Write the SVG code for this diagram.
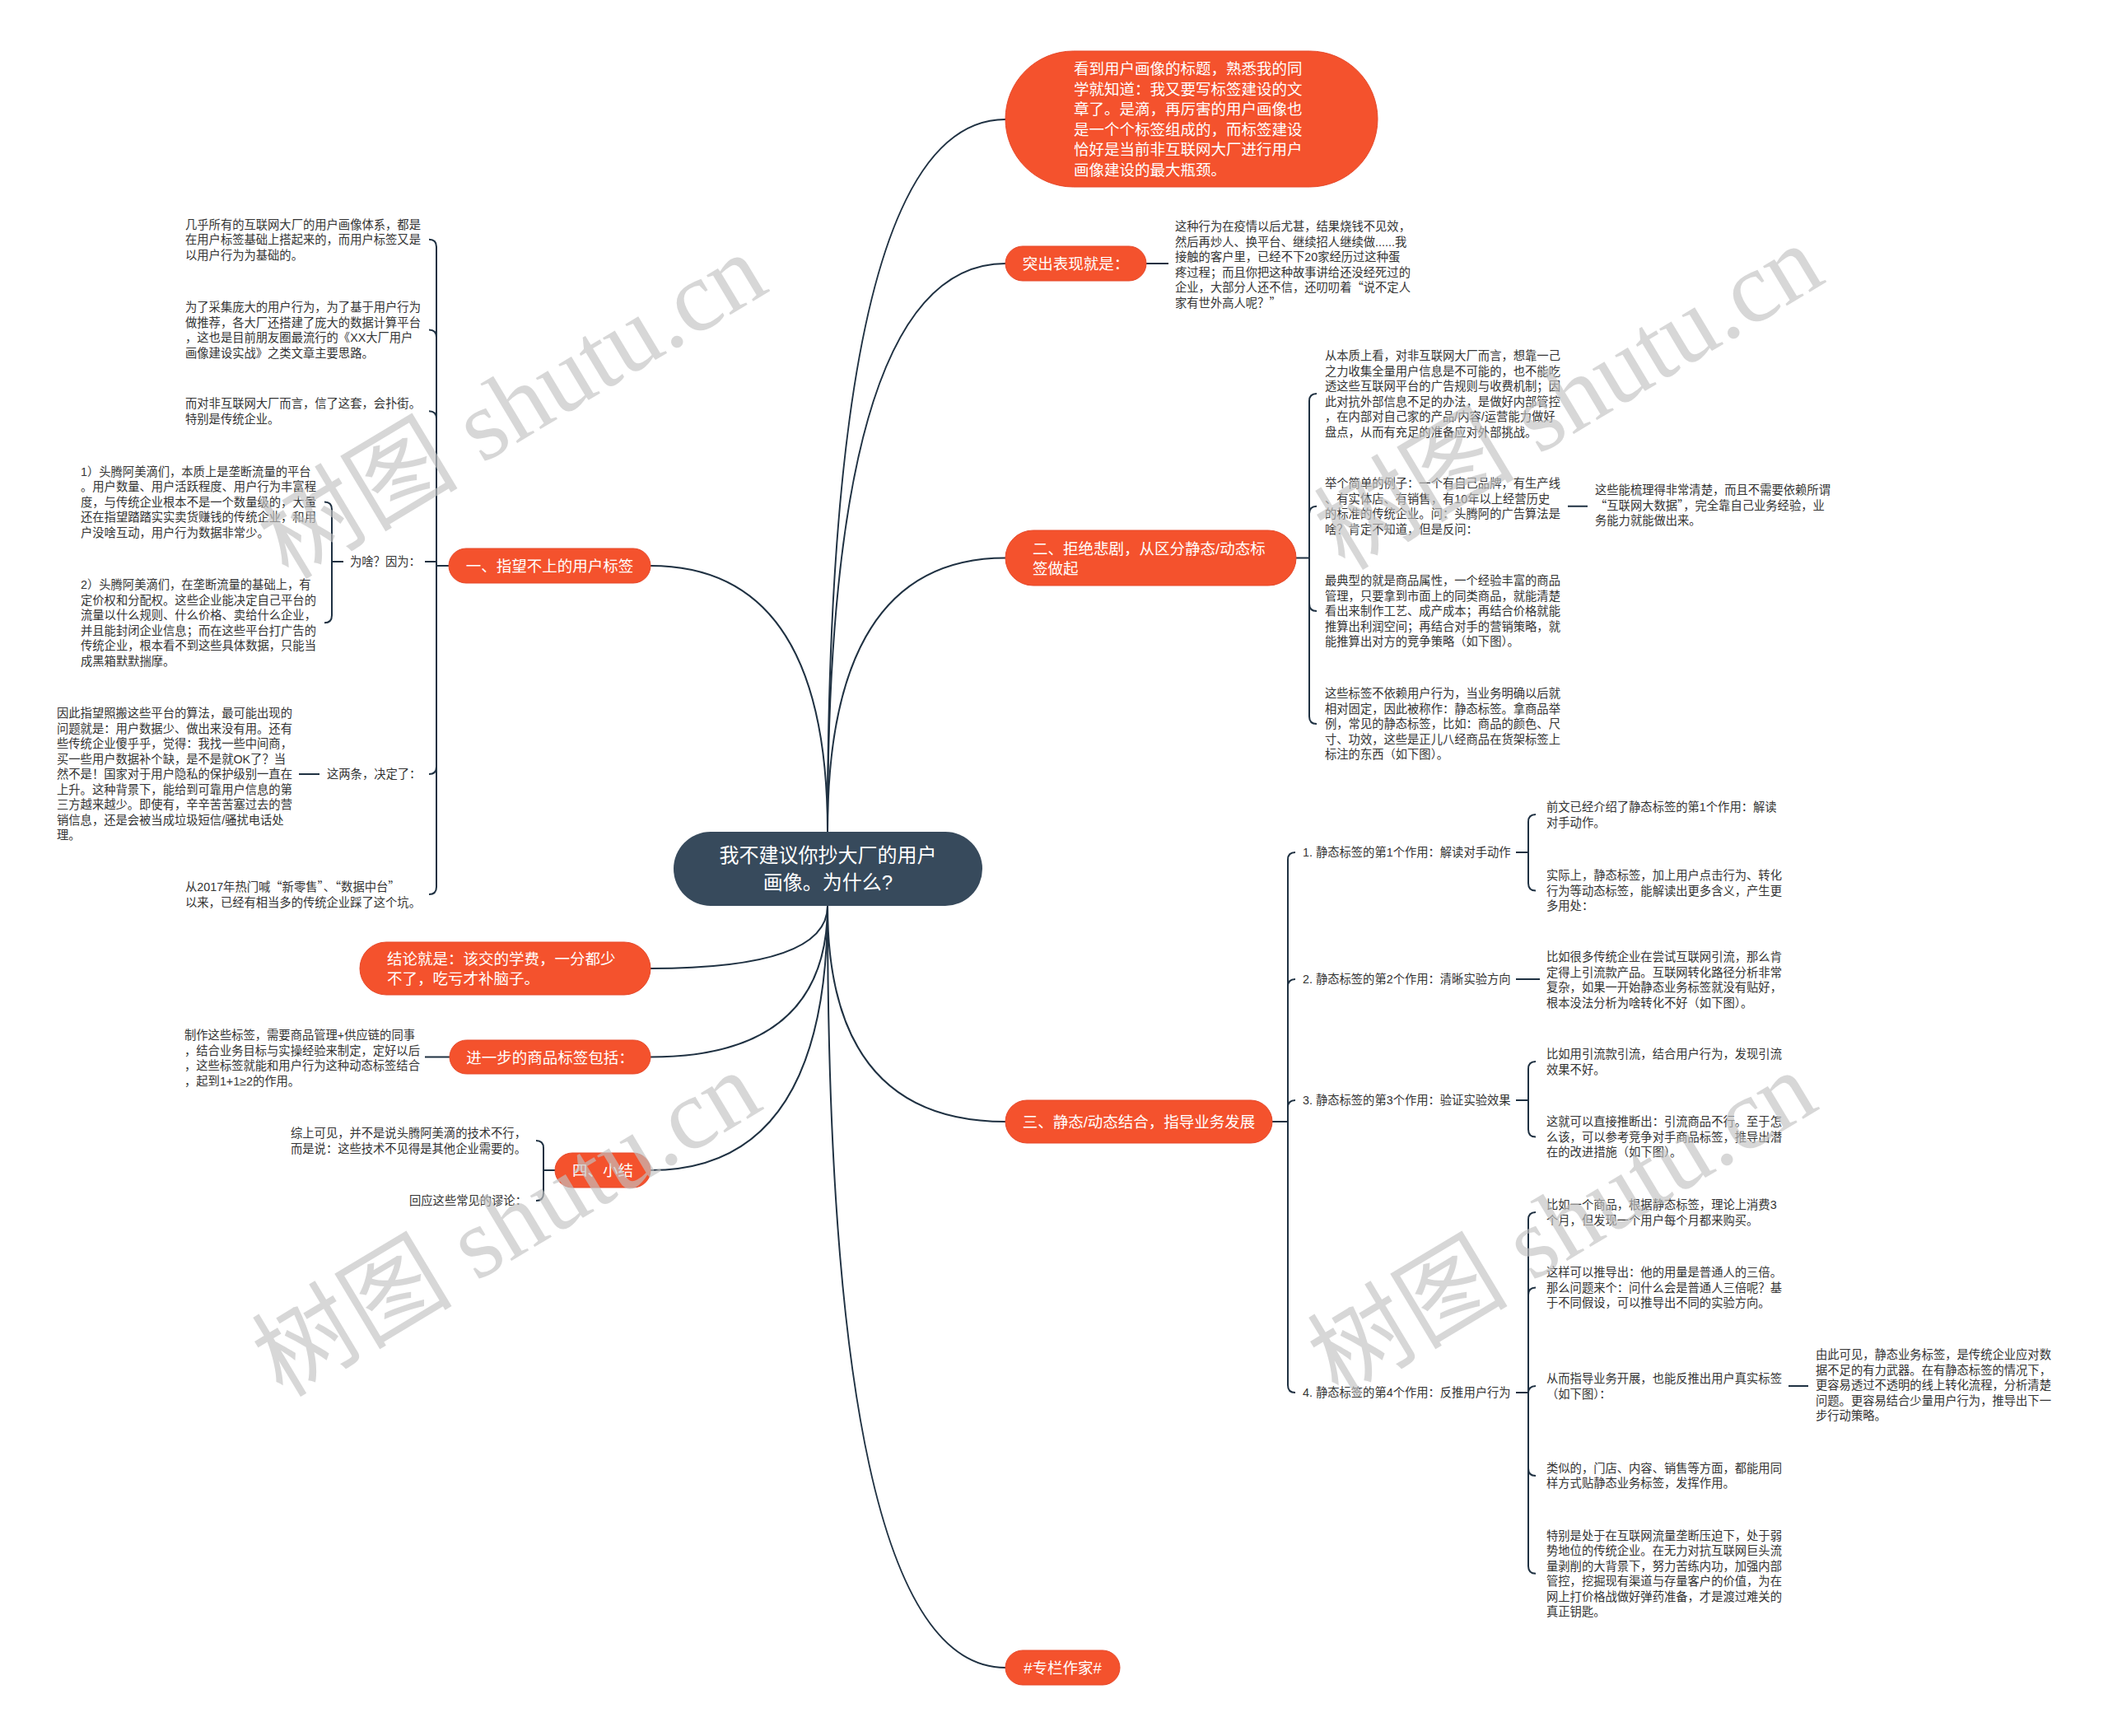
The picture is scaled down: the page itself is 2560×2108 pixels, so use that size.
<svg xmlns="http://www.w3.org/2000/svg" width="2560" height="2108" viewBox="0 0 2560 2108">
<style>
.t{font-family:"Liberation Sans","Noto Sans CJK SC",sans-serif;font-size:14.3px;fill:#333}
.q{font-family:"Noto Sans CJK SC",sans-serif}
.nt{font-family:"Liberation Sans","Noto Sans CJK SC",sans-serif;font-size:18.5px;fill:#fff}
.ct{font-family:"Liberation Sans","Noto Sans CJK SC",sans-serif;font-size:24px;fill:#fff;text-anchor:middle}
.node{fill:#f4522d;stroke:#e5482a;stroke-width:1}
.root{fill:#374a5c}
.conn path{fill:none;stroke:#1f3142;stroke-width:2}
.wm{font-family:"Liberation Serif","Noto Sans CJK SC",serif;font-size:122px;fill:#c2c2c2;opacity:0.65}
</style>
<rect width="2560" height="2108" fill="#fff"/>
<g id="connectors" class="conn">
<path d="M1005,1010 Q1005,145 1221,145"/>
<path d="M1005,1010 Q1005,320 1221,320"/>
<path d="M1005,1010 Q1005,677.5 1221,677.5"/>
<path d="M1005,1010 Q1005,687 790,687"/>
<path d="M1005,1100 Q1005,1362 1221,1362"/>
<path d="M1005,1100 Q1005,2025 1221,2025"/>
<path d="M1005,1100 Q1005,1176 790,1176"/>
<path d="M1005,1100 Q1005,1283.5 790,1283.5"/>
<path d="M1005,1100 Q1005,1421 790,1421"/>
<path d="M1392,320 H1419"/>
<path d="M1574,677.5 H1590"/>
<path d="M1590,677.5 V487 Q1590,478 1599,478"/>
<path d="M1590,677.5 V623.75 Q1590,614.75 1599,614.75"/>
<path d="M1590,677.5 V733 Q1590,742 1599,742"/>
<path d="M1590,677.5 V870 Q1590,879 1599,879"/>
<path d="M1904,614.75 H1928"/>
<path d="M1545,1362 H1564"/>
<path d="M1564,1362 V1044 Q1564,1035 1573,1035"/>
<path d="M1564,1362 V1198 Q1564,1189 1573,1189"/>
<path d="M1564,1362 V1345 Q1564,1336 1573,1336"/>
<path d="M1564,1362 V1682 Q1564,1691 1573,1691"/>
<path d="M1841,1035 H1856"/>
<path d="M1856,1035 V998 Q1856,989 1865,989"/>
<path d="M1856,1035 V1072.5 Q1856,1081.5 1865,1081.5"/>
<path d="M1841,1189 H1870"/>
<path d="M1841,1336 H1856"/>
<path d="M1856,1336 V1298 Q1856,1289 1865,1289"/>
<path d="M1856,1336 V1371.5 Q1856,1380.5 1865,1380.5"/>
<path d="M1841,1691 H1856"/>
<path d="M1856,1691 V1481 Q1856,1472 1865,1472"/>
<path d="M1856,1691 V1572.5 Q1856,1563.5 1865,1563.5"/>
<path d="M1856,1691 V1692 Q1856,1683 1865,1683"/>
<path d="M1856,1691 V1783 Q1856,1792 1865,1792"/>
<path d="M1856,1691 V1901.75 Q1856,1910.75 1865,1910.75"/>
<path d="M2172,1683 H2196"/>
<path d="M545,687 H530"/>
<path d="M530,687 V299.8 Q530,290.8 521,290.8"/>
<path d="M530,687 V409.5 Q530,400.5 521,400.5"/>
<path d="M530,687 V508.25 Q530,499.25 521,499.25"/>
<path d="M530,687 V682 H516"/>
<path d="M530,687 V931 Q530,940 521,940"/>
<path d="M530,687 V1077 Q530,1086 521,1086"/>
<path d="M417,682 H403"/>
<path d="M403,682 V618.5 Q403,609.5 394,609.5"/>
<path d="M403,682 V747.25 Q403,756.25 394,756.25"/>
<path d="M388,940 H363"/>
<path d="M516,1283.5 H546"/>
<path d="M674,1421 H660"/>
<path d="M660,1421 V1394 Q660,1385 651,1385"/>
<path d="M660,1421 V1449 Q660,1458 651,1458"/>
</g>
<g id="root">
<rect class="root" x="818" y="1010" width="375" height="90" rx="45"/>
<text class="ct"><tspan x="1005.5" y="1047">我不建议你抄大厂的用户</tspan><tspan x="1005.5" y="1080">画像。为什么?</tspan></text>
</g>
<g id="n-intro">
<rect class="node" x="1221" y="62" width="452" height="165" rx="82.5"/>
<text class="nt"><tspan x="1304" y="90">看到用户画像的标题，熟悉我的同</tspan><tspan x="1304" y="114.5">学就知道：我又要写标签建设的文</tspan><tspan x="1304" y="139">章了。是滴，再厉害的用户画像也</tspan><tspan x="1304" y="163.5">是一个个标签组成的，而标签建设</tspan><tspan x="1304" y="188">恰好是当前非互联网大厂进行用户</tspan><tspan x="1304" y="212.5">画像建设的最大瓶颈。</tspan></text>
</g>
<g id="n-tuchu">
<rect class="node" x="1221" y="299" width="171" height="42" rx="21"/>
<text class="nt" x="1306.5" y="327" text-anchor="middle">突出表现就是：</text>
</g>
<g id="n-tuchu-c1">
<text class="t"><tspan x="1427" y="280.4">这种行为在疫情以后尤甚，结果烧钱不见效，</tspan><tspan x="1427" y="298.9">然后再炒人、换平台、继续招人继续做......我</tspan><tspan x="1427" y="317.4">接触的客户里，已经不下20家经历过这种蛋</tspan><tspan x="1427" y="335.9">疼过程；而且你把这种故事讲给还没经死过的</tspan><tspan x="1427" y="354.4">企业，大部分人还不信，还叨叨着<tspan class="q">“</tspan>说不定人</tspan><tspan x="1427" y="372.9">家有世外高人呢？<tspan class="q">”</tspan></tspan></text>
</g>
<g id="n-two">
<rect class="node" x="1221" y="644" width="353" height="67" rx="33.5"/>
<text class="nt"><tspan x="1254" y="672.5">二、拒绝悲剧，从区分静态/动态标</tspan><tspan x="1254" y="696.5">签做起</tspan></text>
</g>
<g id="n-two-a">
<text class="t"><tspan x="1609" y="437.4">从本质上看，对非互联网大厂而言，想靠一己</tspan><tspan x="1609" y="455.9">之力收集全量用户信息是不可能的，也不能吃</tspan><tspan x="1609" y="474.4">透这些互联网平台的广告规则与收费机制；因</tspan><tspan x="1609" y="492.9">此对抗外部信息不足的办法，是做好内部管控</tspan><tspan x="1609" y="511.4">，在内部对自己家的产品/内容/运营能力做好</tspan><tspan x="1609" y="529.9">盘点，从而有充足的准备应对外部挑战。</tspan></text>
</g>
<g id="n-two-b">
<text class="t"><tspan x="1609" y="592.4">举个简单的例子：一个有自己品牌，有生产线</tspan><tspan x="1609" y="610.9">、有实体店、有销售，有10年以上经营历史</tspan><tspan x="1609" y="629.4">的标准的传统企业。问：头腾阿的广告算法是</tspan><tspan x="1609" y="647.9">啥？肯定不知道，但是反问：</tspan></text>
</g>
<g id="n-two-b1">
<text class="t"><tspan x="1937" y="600.4">这些能梳理得非常清楚，而且不需要依赖所谓</tspan><tspan x="1937" y="618.9"><tspan class="q">“</tspan>互联网大数据<tspan class="q">”</tspan>，完全靠自己业务经验，业</tspan><tspan x="1937" y="637.4">务能力就能做出来。</tspan></text>
</g>
<g id="n-two-c">
<text class="t"><tspan x="1609" y="710.4">最典型的就是商品属性，一个经验丰富的商品</tspan><tspan x="1609" y="728.9">管理，只要拿到市面上的同类商品，就能清楚</tspan><tspan x="1609" y="747.4">看出来制作工艺、成产成本；再结合价格就能</tspan><tspan x="1609" y="765.9">推算出利润空间；再结合对手的营销策略，就</tspan><tspan x="1609" y="784.4">能推算出对方的竞争策略（如下图）。</tspan></text>
</g>
<g id="n-two-d">
<text class="t"><tspan x="1609" y="847.4">这些标签不依赖用户行为，当业务明确以后就</tspan><tspan x="1609" y="865.9">相对固定，因此被称作：静态标签。拿商品举</tspan><tspan x="1609" y="884.4">例，常见的静态标签，比如：商品的颜色、尺</tspan><tspan x="1609" y="902.9">寸、功效，这些是正儿八经商品在货架标签上</tspan><tspan x="1609" y="921.4">标注的东西（如下图）。</tspan></text>
</g>
<g id="n-three">
<rect class="node" x="1221" y="1336" width="324" height="52" rx="26"/>
<text class="nt" x="1383" y="1369" text-anchor="middle">三、静态/动态结合，指导业务发展</text>
</g>
<g id="n-three-l1"><text class="t" x="1582" y="1040.4">1. 静态标签的第1个作用：解读对手动作</text></g>
<g id="n-three-l2"><text class="t" x="1582" y="1194.4">2. 静态标签的第2个作用：清晰实验方向</text></g>
<g id="n-three-l3"><text class="t" x="1582" y="1341.4">3. 静态标签的第3个作用：验证实验效果</text></g>
<g id="n-three-l4"><text class="t" x="1582" y="1696.4">4. 静态标签的第4个作用：反推用户行为</text></g>
<g id="n-l1-c1"><text class="t"><tspan x="1878" y="985.4">前文已经介绍了静态标签的第1个作用：解读</tspan><tspan x="1878" y="1003.9">对手动作。</tspan></text></g>
<g id="n-l1-c2"><text class="t"><tspan x="1878" y="1068.4">实际上，静态标签，加上用户点击行为、转化</tspan><tspan x="1878" y="1086.9">行为等动态标签，能解读出更多含义，产生更</tspan><tspan x="1878" y="1105.4">多用处：</tspan></text></g>
<g id="n-l2-c1"><text class="t"><tspan x="1878" y="1167.4">比如很多传统企业在尝试互联网引流，那么肯</tspan><tspan x="1878" y="1185.9">定得上引流款产品。互联网转化路径分析非常</tspan><tspan x="1878" y="1204.4">复杂，如果一开始静态业务标签就没有贴好，</tspan><tspan x="1878" y="1222.9">根本没法分析为啥转化不好（如下图）。</tspan></text></g>
<g id="n-l3-c1"><text class="t"><tspan x="1878" y="1285.4">比如用引流款引流，结合用户行为，发现引流</tspan><tspan x="1878" y="1303.9">效果不好。</tspan></text></g>
<g id="n-l3-c2"><text class="t"><tspan x="1878" y="1367.4">这就可以直接推断出：引流商品不行。至于怎</tspan><tspan x="1878" y="1385.9">么该，可以参考竞争对手商品标签，推导出潜</tspan><tspan x="1878" y="1404.4">在的改进措施（如下图）。</tspan></text></g>
<g id="n-l4-c1"><text class="t"><tspan x="1878" y="1468.4">比如一个商品，根据静态标签，理论上消费3</tspan><tspan x="1878" y="1486.9">个月，但发现一个用户每个月都来购买。</tspan></text></g>
<g id="n-l4-c2"><text class="t"><tspan x="1878" y="1550.4">这样可以推导出：他的用量是普通人的三倍。</tspan><tspan x="1878" y="1568.9">那么问题来个：问什么会是普通人三倍呢？基</tspan><tspan x="1878" y="1587.4">于不同假设，可以推导出不同的实验方向。</tspan></text></g>
<g id="n-l4-c3"><text class="t"><tspan x="1878" y="1679.4">从而指导业务开展，也能反推出用户真实标签</tspan><tspan x="1878" y="1697.9">（如下图）：</tspan></text></g>
<g id="n-l4-c3a"><text class="t"><tspan x="2205" y="1650.4">由此可见，静态业务标签，是传统企业应对数</tspan><tspan x="2205" y="1668.9">据不足的有力武器。在有静态标签的情况下，</tspan><tspan x="2205" y="1687.4">更容易透过不透明的线上转化流程，分析清楚</tspan><tspan x="2205" y="1705.9">问题。更容易结合少量用户行为，推导出下一</tspan><tspan x="2205" y="1724.4">步行动策略。</tspan></text></g>
<g id="n-l4-c4"><text class="t"><tspan x="1878" y="1787.9">类似的，门店、内容、销售等方面，都能用同</tspan><tspan x="1878" y="1806.4">样方式贴静态业务标签，发挥作用。</tspan></text></g>
<g id="n-l4-c5"><text class="t"><tspan x="1878" y="1869.9">特别是处于在互联网流量垄断压迫下，处于弱</tspan><tspan x="1878" y="1888.4">势地位的传统企业。在无力对抗互联网巨头流</tspan><tspan x="1878" y="1906.9">量剥削的大背景下，努力苦练内功，加强内部</tspan><tspan x="1878" y="1925.4">管控，挖掘现有渠道与存量客户的价值，为在</tspan><tspan x="1878" y="1943.9">网上打价格战做好弹药准备，才是渡过难关的</tspan><tspan x="1878" y="1962.4">真正钥匙。</tspan></text></g>
<g id="n-column">
<rect class="node" x="1221" y="2004" width="139" height="42" rx="21"/>
<text class="nt" x="1290.5" y="2032" text-anchor="middle">#专栏作家#</text>
</g>
<g id="n-one">
<rect class="node" x="545" y="666" width="245" height="42" rx="21"/>
<text class="nt" x="667.5" y="694" text-anchor="middle">一、指望不上的用户标签</text>
</g>
<g id="n-one-a"><text class="t"><tspan x="225" y="277.7">几乎所有的互联网大厂的用户画像体系，都是</tspan><tspan x="225" y="296.2">在用户标签基础上搭起来的，而用户标签又是</tspan><tspan x="225" y="314.7">以用户行为为基础的。</tspan></text></g>
<g id="n-one-b"><text class="t"><tspan x="225" y="378.1">为了采集庞大的用户行为，为了基于用户行为</tspan><tspan x="225" y="396.6">做推荐，各大厂还搭建了庞大的数据计算平台</tspan><tspan x="225" y="415.1">，这也是目前朋友圈最流行的《XX大厂用户</tspan><tspan x="225" y="433.6">画像建设实战》之类文章主要思路。</tspan></text></g>
<g id="n-one-c"><text class="t"><tspan x="225" y="495.4">而对非互联网大厂而言，信了这套，会扑街。</tspan><tspan x="225" y="513.9">特别是传统企业。</tspan></text></g>
<g id="n-one-d"><text class="t" x="425" y="687.4">为啥？因为：</text></g>
<g id="n-one-d1"><text class="t"><tspan x="98" y="577.9">1）头腾阿美滴们，本质上是垄断流量的平台</tspan><tspan x="98" y="596.4">。用户数量、用户活跃程度、用户行为丰富程</tspan><tspan x="98" y="614.9">度，与传统企业根本不是一个数量级的，大量</tspan><tspan x="98" y="633.4">还在指望踏踏实实卖货赚钱的传统企业，和用</tspan><tspan x="98" y="651.9">户没啥互动，用户行为数据非常少。</tspan></text></g>
<g id="n-one-d2"><text class="t"><tspan x="98" y="715.4">2）头腾阿美滴们，在垄断流量的基础上，有</tspan><tspan x="98" y="733.9">定价权和分配权。这些企业能决定自己平台的</tspan><tspan x="98" y="752.4">流量以什么规则、什么价格、卖给什么企业，</tspan><tspan x="98" y="770.9">并且能封闭企业信息；而在这些平台打广告的</tspan><tspan x="98" y="789.4">传统企业，根本看不到这些具体数据，只能当</tspan><tspan x="98" y="807.9">成黑箱默默揣摩。</tspan></text></g>
<g id="n-one-e"><text class="t" x="397" y="945.4">这两条，决定了：</text></g>
<g id="n-one-e1"><text class="t"><tspan x="69" y="871.4">因此指望照搬这些平台的算法，最可能出现的</tspan><tspan x="69" y="889.9">问题就是：用户数据少、做出来没有用。还有</tspan><tspan x="69" y="908.4">些传统企业傻乎乎，觉得：我找一些中间商，</tspan><tspan x="69" y="926.9">买一些用户数据补个缺，是不是就OK了？当</tspan><tspan x="69" y="945.4">然不是！国家对于用户隐私的保护级别一直在</tspan><tspan x="69" y="963.9">上升。这种背景下，能给到可靠用户信息的第</tspan><tspan x="69" y="982.4">三方越来越少。即使有，辛辛苦苦塞过去的营</tspan><tspan x="69" y="1000.9">销信息，还是会被当成垃圾短信/骚扰电话处</tspan><tspan x="69" y="1019.4">理。</tspan></text></g>
<g id="n-one-f"><text class="t"><tspan x="225" y="1082.4">从2017年热门喊<tspan class="q">“</tspan>新零售<tspan class="q">”</tspan>、<tspan class="q">“</tspan>数据中台<tspan class="q">”</tspan></tspan><tspan x="225" y="1100.9">以来，已经有相当多的传统企业踩了这个坑。</tspan></text></g>
<g id="n-conclusion">
<rect class="node" x="437" y="1144" width="353" height="64" rx="32"/>
<text class="nt"><tspan x="470" y="1171">结论就是：该交的学费，一分都少</tspan><tspan x="470" y="1195">不了，吃亏才补脑子。</tspan></text>
</g>
<g id="n-further">
<rect class="node" x="546" y="1263" width="244" height="41" rx="20.5"/>
<text class="nt" x="668" y="1290.5" text-anchor="middle">进一步的商品标签包括：</text>
</g>
<g id="n-further-c1"><text class="t"><tspan x="224" y="1262.4">制作这些标签，需要商品管理+供应链的同事</tspan><tspan x="224" y="1280.9">，结合业务目标与实操经验来制定，定好以后</tspan><tspan x="224" y="1299.4">，这些标签就能和用户行为这种动态标签结合</tspan><tspan x="224" y="1317.9">，起到1+1≥2的作用。</tspan></text></g>
<g id="n-four">
<rect class="node" x="674" y="1400" width="116" height="42" rx="21"/>
<text class="nt" x="732" y="1428" text-anchor="middle">四、小结</text>
</g>
<g id="n-four-c1"><text class="t"><tspan x="353" y="1381.4">综上可见，并不是说头腾阿美滴的技术不行，</tspan><tspan x="353" y="1399.9">而是说：这些技术不见得是其他企业需要的。</tspan></text></g>
<g id="n-four-c2"><text class="t" x="497" y="1463.4">回应这些常见的谬论：</text></g>
<g id="watermarks">
<text class="wm" transform="translate(350,705) rotate(-31)" xml:space="preserve">树图 shutu.cn</text>
<text class="wm" transform="translate(1633,694) rotate(-31)" xml:space="preserve">树图 shutu.cn</text>
<text class="wm" transform="translate(343,1698) rotate(-31)" xml:space="preserve">树图 shutu.cn</text>
<text class="wm" transform="translate(1625,1698) rotate(-31)" xml:space="preserve">树图 shutu.cn</text>
</g>
</svg>
